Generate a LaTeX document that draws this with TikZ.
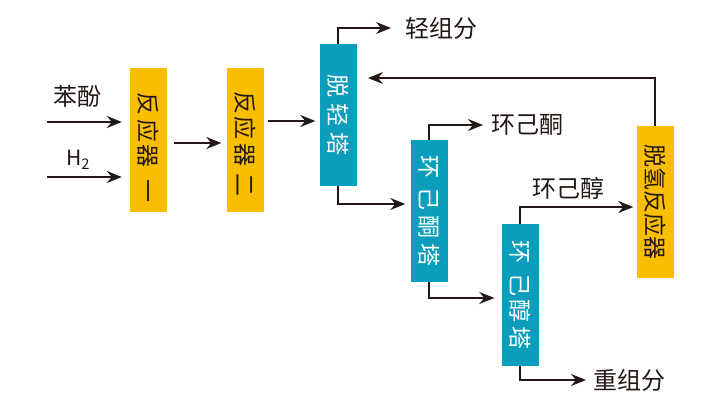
\documentclass[tikz,border=0pt]{standalone}
\usepackage{fontspec}
\setmainfont{Noto Sans CJK SC}
\usetikzlibrary{arrows.meta}
\definecolor{boxyellow}{RGB}{249,190,0}
\definecolor{boxteal}{RGB}{10,158,188}
\definecolor{inkdark}{RGB}{35,24,21}

\begin{document}
\begin{tikzpicture}[x=1pt, y=-1pt,
	reactor/.style={fill=boxyellow, text=inkdark, inner sep=0, minimum width=37pt, minimum height=144pt, font=\fontsize{23}{23}\selectfont},
	column/.style={fill=boxteal, text=white, inner sep=0, minimum width=37pt, minimum height=142pt, font=\fontsize{23}{23}\selectfont},
	stream/.style={text=inkdark, inner sep=0, font=\fontsize{24}{24}\selectfont},
	flow/.style={draw=inkdark, line width=1.8pt, -{Stealth[length=15pt, width=12pt, inset=5pt]}}]
	\useasboundingbox (0,0) rectangle (710,414);
	% Paths, nodes and wires:
	\node[reactor] (R1) at (148.5, 140) {\rotatebox{-90}{\kern16pt 反\kern4pt 应\kern2pt 器\kern12pt 一}};
	\node[reactor] (R2) at (245, 140) {\rotatebox{-90}{\kern8pt 反\kern2pt 应\kern4pt 器\kern7pt 二}};
	\node[column] (tuoqing) at (338, 115) {\rotatebox{-90}{脱\kern5.5pt 轻\kern6pt 塔}};
	\node[column] (ketT) at (429, 211) {\rotatebox{-90}{环\kern9pt 己\kern5pt 酮\kern5pt 塔}};
	\node[column] (alcT) at (520, 295) {\rotatebox{-90}{环\kern10pt 己\kern3pt 醇\kern4pt 塔}};
	\node[reactor, minimum height=152pt] (dehyd) at (655, 202) {\rotatebox{-90}{脱氢反应器}};
	\node[stream] (phenol) at (77, 96) {苯酚};
	\node[stream] (hydrogen) at (78, 160) {\fontsize{21}{21}\selectfont H\textsubscript{2}};
	\node[stream, anchor=west] (light) at (405, 28) {轻组分};
	\node[stream, anchor=west] (ketone) at (491, 125) {环己酮};
	\node[stream] (alcohol) at (568, 188) {环己醇};
	\node[stream, anchor=west] (heavy) at (593, 380) {重组分};
	\coordinate (phenolIn) at (47, 122);
	\coordinate (hydrogenIn) at (47, 177);
	\coordinate (recycleEnd) at (368, 78);
	\draw[flow, shorten >=8pt] (phenolIn) -- (phenolIn -| R1.west);
	\draw[flow, shorten >=8pt] (hydrogenIn) -- (hydrogenIn -| R1.west);
	\draw[flow, shorten <=7pt, shorten >=5pt] ([yshift=-3pt]R1.east) -- ([yshift=-3pt]R2.west);
	\draw[flow, shorten <=4pt, shorten >=4pt] ([yshift=19pt]R2.east) -- ([yshift=19pt]R2.east -| tuoqing.west);
	\draw[flow, shorten >=14pt] (tuoqing.north) |- (light.west);
	\draw[flow] (dehyd.north) |- (recycleEnd);
	\draw[flow, shorten >=5pt] (tuoqing.south) |- ([yshift=7pt]ketT.west);
	\draw[flow, shorten >=8pt] (ketT.north) |- (ketone.west);
	\draw[flow, shorten >=7pt] (ketT.south) |- ([yshift=-3pt]alcT.west);
	\draw[flow, shorten >=3pt] (alcT.north) |- ([yshift=-5pt]dehyd.west);
	\draw[flow, shorten >=7pt] (alcT.south) |- (heavy.west);
\end{tikzpicture}
\end{document}
